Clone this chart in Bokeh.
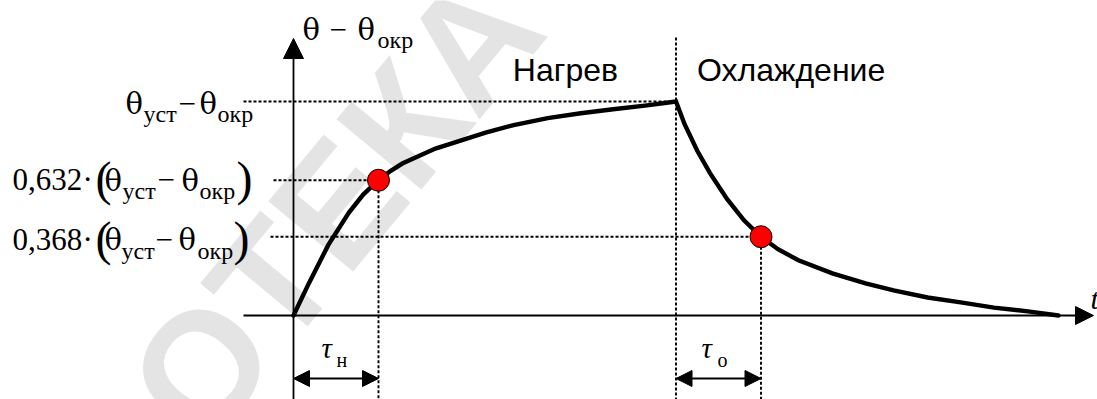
from bokeh.plotting import figure
from bokeh.models import Range1d, Label, Arrow, NormalHead
from bokeh.embed import file_html
from bokeh.resources import INLINE

# Time is measured in heating time constants, overtemperature as a share of (θуст − θокр)
heat_t = [0.0, 0.18, 0.41, 0.65, 0.82, 1.0, 1.14, 1.28, 1.67, 2.26, 2.59, 2.99, 3.38, 3.76, 4.16, 4.5]
heat_v = [0.0, 0.15, 0.33, 0.48, 0.565, 0.632, 0.675, 0.71, 0.78, 0.855, 0.89, 0.922, 0.945, 0.964, 0.982, 1.0]
cool_t = [4.5, 4.6, 4.75, 4.9, 5.1, 5.3, 5.5, 5.7, 5.94, 6.34, 6.73, 7.06, 7.46, 7.85, 8.24, 8.64, 9.0]
cool_v = [1.0, 0.895, 0.77, 0.665, 0.545, 0.445, 0.368, 0.31, 0.258, 0.197, 0.15, 0.117, 0.084, 0.061, 0.037, 0.019, 0.0]

tau_h = 1.0          # τн, heating time constant
t_off = 4.5          # instant the heating stops
tau_c = 1.0          # τо, cooling time constant
level_full = 1.0     # θуст − θокр
level_heat = 0.632   # value reached after τн
level_cool = 0.368   # value left after τо

mark_t = [tau_h, t_off + tau_c]
mark_v = [level_heat, level_cool]

# pixel scale of the drawing
W, H = 1097, 399
PX_T, PX_V = 85.0, 214.0
ORIGIN_X, ORIGIN_Y = 293.0, 315.0   # origin position, px from left / top


def tx(px):
    return (px - ORIGIN_X) / PX_T


def vy(px):
    return (ORIGIN_Y - px) / PX_V


x_lo, x_hi = tx(0), tx(W)
y_lo, y_hi = vy(H), vy(0)

p = figure(width=W, height=H, x_range=Range1d(x_lo, x_hi), y_range=Range1d(y_lo, y_hi),
           x_axis_type=None, y_axis_type=None, toolbar_location=None,
           output_backend="svg", min_border=0, outline_line_color=None,
           background_fill_color="white", border_fill_color="white")

SERIF = "Liberation Serif"
GREEK = "DejaVu Serif"
SANS = "Liberation Sans"

# faint watermark band
p.add_layout(Label(x=230, y=-73, x_units="screen", y_units="screen", text="ОТЕКА",
                   angle=50.3, angle_units="deg", text_font=SANS, text_font_style="bold",
                   text_font_size="160px", text_color="#e4e4e4", level="underlay"))

# dotted guide lines
DOT = dict(line_color="black", line_width=1.9, line_dash="3 2")
p.segment(x0=[tx(243), tx(273), tx(270)], y0=[level_full, level_heat, level_cool],
          x1=[t_off, tau_h, t_off + tau_c], y1=[level_full, level_heat, level_cool], **DOT)
p.segment(x0=[tau_h, t_off, t_off + tau_c], y0=[level_heat, vy(37), level_cool],
          x1=[tau_h, t_off, t_off + tau_c], y1=[y_lo, y_lo, y_lo], **DOT)

# axes with arrow heads
p.add_layout(Arrow(end=NormalHead(size=18, fill_color="black", line_color="black"),
                   x_start=tx(243), y_start=0, x_end=tx(1093), y_end=0,
                   line_width=1.8, line_color="black"))
p.add_layout(Arrow(end=NormalHead(size=20, fill_color="black", line_color="black"),
                   x_start=0, y_start=y_lo, x_end=0, y_end=vy(38),
                   line_width=1.8, line_color="black"))

# heating and cooling curve
p.line(heat_t + cool_t[1:], heat_v + cool_v[1:], line_color="black", line_width=4.4,
       line_join="miter", line_cap="round")

# time-constant points
p.scatter(mark_t, mark_v, size=22, fill_color="#ff0000", line_color="black", line_width=1)

# τ dimension arrows
arrow_v = vy(378)
for a, b in [(0, tau_h), (t_off, t_off + tau_c)]:
    p.add_layout(Arrow(start=NormalHead(size=16, fill_color="black", line_color="black"),
                       end=NormalHead(size=16, fill_color="black", line_color="black"),
                       x_start=a, y_start=arrow_v, x_end=b, y_end=arrow_v,
                       line_width=1.8, line_color="black"))

BASE_SHIFT = 0.3   # raise per px of font size so the glyph baseline lands on y + dy


def put(text, x, y, size, dy=0, font=SERIF, style="normal", x_units="screen", dx=0, align="left"):
    p.add_layout(Label(x=x, y=y, x_units=x_units, y_units="data", x_offset=dx,
                       y_offset=dy + BASE_SHIFT * size,
                       text=text, text_font=font, text_font_style=style,
                       text_font_size=f"{size}px", text_baseline="alphabetic",
                       text_align=align, text_color="black"))


# vertical axis title: θ − θокр
top_v = vy(38)
put("θ", 302, top_v, 29, font=GREEK)
put("−", 329, top_v, 31)
put("θ", 357, top_v, 29, font=GREEK)
put("окр", 377, top_v, 24, dy=-9)

# horizontal axis title
put("t", 1090, 0, 30, dy=8, style="italic")

# level labels
put("θ", 125, level_full, 29, dy=-11, font=GREEK)
put("уст", 143, level_full, 24, dy=-20)
put("−", 178, level_full, 31, dy=-11)
put("θ", 199, level_full, 29, dy=-11, font=GREEK)
put("окр", 217, level_full, 24, dy=-20)


def share_label(coef, lvl, base, xs):
    put(coef, 12, lvl, 31, dy=-base)
    put("·", 82, lvl, 31, dy=-base)
    put("(", xs[0], lvl, 48, dy=-(base + 7) + 3)
    put("θ", xs[1], lvl, 29, dy=-base, font=GREEK)
    put("уст", xs[2], lvl, 24, dy=-(base + 9))
    put("−", xs[3], lvl, 31, dy=-base)
    put("θ", xs[4], lvl, 29, dy=-base, font=GREEK)
    put("окр", xs[5], lvl, 24, dy=-(base + 9))
    put(")", xs[6], lvl, 48, dy=-(base + 7) + 3)


share_label("0,632", level_heat, 9, [95, 104, 122, 157, 181, 199, 236])
share_label("0,368", level_cool, 12, [95, 104, 121, 155, 178, 197, 233])

# τ labels over the dimension arrows
put("τ", 321, arrow_v, 29, dy=22, style="italic")
put("н", 336, arrow_v, 20, dy=13)
put("τ", 701, arrow_v, 29, dy=22, style="italic")
put("о", 717, arrow_v, 20, dy=13)

# stage captions
put("Нагрев", t_off, level_full, 32, dy=22, font=SANS, x_units="data", dx=-58, align="right")
put("Охлаждение", t_off, level_full, 32, dy=22, font=SANS, x_units="data", dx=21)

open("out.html", "w").write(file_html(p, INLINE))
